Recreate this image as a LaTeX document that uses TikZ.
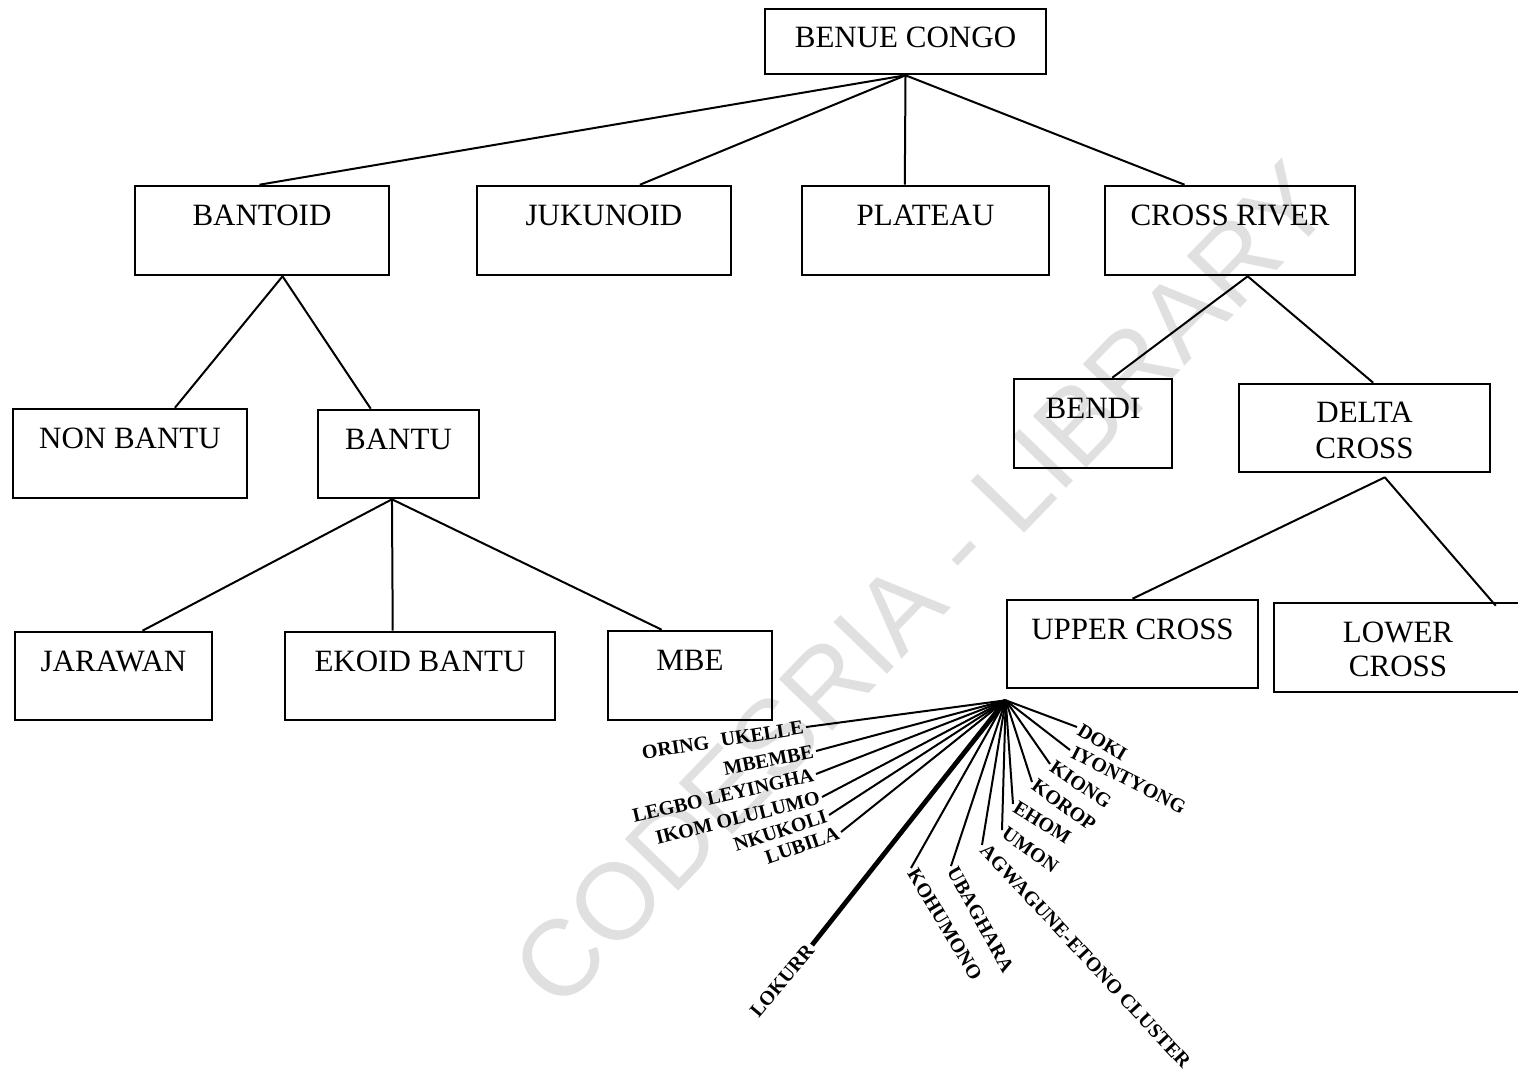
\documentclass[tikz,border=0pt]{standalone}
\usepackage{fontspec}
\setmainfont{Liberation Serif}
\newfontfamily\wmfont{Liberation Sans}
\usetikzlibrary{fit,calc}
\begin{document}
\begin{tikzpicture}[x=0.5pt,y=-0.5pt,
  box/.style={draw, line width=1.3pt, inner sep=0pt},
  lbl/.style={font=\fontsize{15.5}{18}\selectfont, anchor=base, inner sep=0pt},
  conn/.style={line width=1pt},
  fanl/.style={font=\bfseries\fontsize{10}{12}\selectfont, inner sep=1.2pt},
  fanc/.style={line width=1pt},
  thickfan/.style={line width=2.4pt}]
\useasboundingbox (0,0) rectangle (1518,1073);
% watermark
\node[rotate=46, font=\wmfont\fontsize{54}{60}\selectfont, text=black!12] (wm) at (922,585) {CODESRIA - LIBRARY};
% boxes
\node[box, fit={(765,9) (1046,74)}] (bc) {};
\node[lbl] (bct) at ([yshift=-20pt]bc.north) {BENUE CONGO};
\node[box, fit={(135,186) (389,275)}] (bantoid) {};
\node[lbl] (bantoidt) at ([yshift=-20.5pt]bantoid.north) {BANTOID};
\node[box, fit={(477,186) (731,275)}] (juk) {};
\node[lbl] (jukt) at ([yshift=-20.5pt]juk.north) {JUKUNOID};
\node[box, fit={(802,186) (1049,275)}] (plat) {};
\node[lbl] (platt) at ([yshift=-20.5pt]plat.north) {PLATEAU};
\node[box, fit={(1105,186) (1355,275)}] (cr) {};
\node[lbl] (crt) at ([yshift=-20.5pt]cr.north) {CROSS RIVER};
\node[box, fit={(13,409) (247,498)}] (nb) {};
\node[lbl] (nbt) at ([yshift=-20.5pt]nb.north) {NON BANTU};
\node[box, fit={(318,410) (479,498)}] (bantu) {};
\node[lbl] (bantut) at ([yshift=-20.5pt]bantu.north) {BANTU};
\node[box, fit={(1014,379) (1172,468)}] (bendi) {};
\node[lbl] (bendit) at ([yshift=-20.5pt]bendi.north) {BENDI};
\node[box, fit={(1239,384) (1490,472)}] (dc) {};
\node[lbl] (dct1) at ([yshift=-20pt]dc.north) {DELTA};
\node[lbl] (dct2) at ([yshift=-38pt]dc.north) {CROSS};
\node[box, fit={(15,632) (212,720)}] (jar) {};
\node[lbl] (jart) at ([yshift=-20.5pt]jar.north) {JARAWAN};
\node[box, fit={(285,632) (555,720)}] (ekoid) {};
\node[lbl] (ekoidt) at ([yshift=-20.5pt]ekoid.north) {EKOID BANTU};
\node[box, fit={(608,631) (772,720)}] (mbe) {};
\node[lbl] (mbet) at ([yshift=-20.5pt]mbe.north) {MBE};
\node[box, fit={(1007,600) (1258,688)}] (uc) {};
\node[lbl] (uct) at ([yshift=-20.5pt]uc.north) {UPPER CROSS};
\node[box, fit={(1274,603) (1522,692)}] (lc) {};
\node[lbl] (lct1) at ([yshift=-20.5pt]$(lc.north west)!0.5!(lc.north east)$) {LOWER};
\node[lbl] (lct2) at ([yshift=-37.5pt]$(lc.north west)!0.5!(lc.north east)$) {CROSS};
% tree connectors
\draw[conn] (bc.south) -- ($(bantoid.north west)!0.49!(bantoid.north east)$);
\draw[conn] (bc.south) -- ($(juk.north west)!0.64!(juk.north east)$);
\draw[conn] (bc.south) -- ($(plat.north west)!0.417!(plat.north east)$);
\draw[conn] (bc.south) -- ($(cr.north west)!0.32!(cr.north east)$);
\draw[conn] ($(bantoid.south west)!0.58!(bantoid.south east)$) -- ($(nb.north west)!0.69!(nb.north east)$);
\draw[conn] ($(bantoid.south west)!0.58!(bantoid.south east)$) -- ($(bantu.north west)!0.33!(bantu.north east)$);
\draw[conn] ($(bantu.south west)!0.46!(bantu.south east)$) -- ($(jar.north west)!0.645!(jar.north east)$);
\draw[conn] ($(bantu.south west)!0.46!(bantu.south east)$) -- ($(ekoid.north west)!0.4!(ekoid.north east)$);
\draw[conn] ($(bantu.south west)!0.46!(bantu.south east)$) -- ($(mbe.north west)!0.33!(mbe.north east)$);
\draw[conn] ($(cr.south west)!0.57!(cr.south east)$) -- ($(bendi.north west)!0.62!(bendi.north east)$);
\draw[conn] ($(cr.south west)!0.57!(cr.south east)$) -- ($(dc.north west)!0.534!(dc.north east)$);
\coordinate (dcb) at ([yshift=-2pt]$(dc.south west)!0.58!(dc.south east)$);
\draw[conn] (dcb) -- ($(uc.north west)!0.5!(uc.north east)$);
\draw[conn] (dcb) -- ([yshift=-2pt]$(lc.north west)!0.89!(lc.north east)$);
% fan below UPPER CROSS
\coordinate (fan) at ([yshift=-5.5pt]uc.south west);
\node[fanl, rotate=9, anchor=east] (oring) at (806,727) {ORING\hspace{0.6em}UKELLE};
\node[fanl, rotate=11, anchor=east] (mbembe) at (816,751) {MBEMBE};
\node[fanl, rotate=13, anchor=east] (legbo) at (816,774) {LEGBO LEYINGHA};
\node[fanl, rotate=14, anchor=east] (ikom) at (822,797) {IKOM OLULUMO};
\node[fanl, rotate=18, anchor=east] (nkukoli) at (829,815) {NKUKOLI};
\node[fanl, rotate=19, anchor=east] (lubila) at (841,832) {LUBILA};
\node[fanl, rotate=50, anchor=east] (lokurr) at (812,945) {LOKURR};
\node[fanl, rotate=-59, anchor=west] (kohumono) at (911,868) {KOHUMONO};
\node[fanl, rotate=-61, anchor=west] (ubaghara) at (951,866) {UBAGHARA};
\node[fanl, rotate=-47, anchor=west] (agwa) at (982,845) {AGWAGUNE-ETONO CLUSTER};
\node[fanl, rotate=-35, anchor=west] (umon) at (1002,830) {UMON};
\node[fanl, rotate=-32, anchor=west] (ehom) at (1013,804) {EHOM};
\node[fanl, rotate=-36, anchor=west] (korop) at (1032,782) {KOROP};
\node[fanl, rotate=-34, anchor=west] (kiong) at (1050,764) {KIONG};
\node[fanl, rotate=-27, anchor=west] (iyon) at (1070,750) {IYONTYONG};
\node[fanl, rotate=-31, anchor=west] (doki) at (1077,727) {DOKI};
\foreach \n in {oring,mbembe,legbo,ikom,nkukoli,lubila}
  \draw[fanc] (fan) -- (\n.east);
\draw[thickfan] (fan) -- (lokurr.east);
\foreach \n in {kohumono,ubaghara,agwa,umon,ehom,korop,kiong,iyon,doki}
  \draw[fanc] (fan) -- (\n.west);
\end{tikzpicture}
\end{document}
